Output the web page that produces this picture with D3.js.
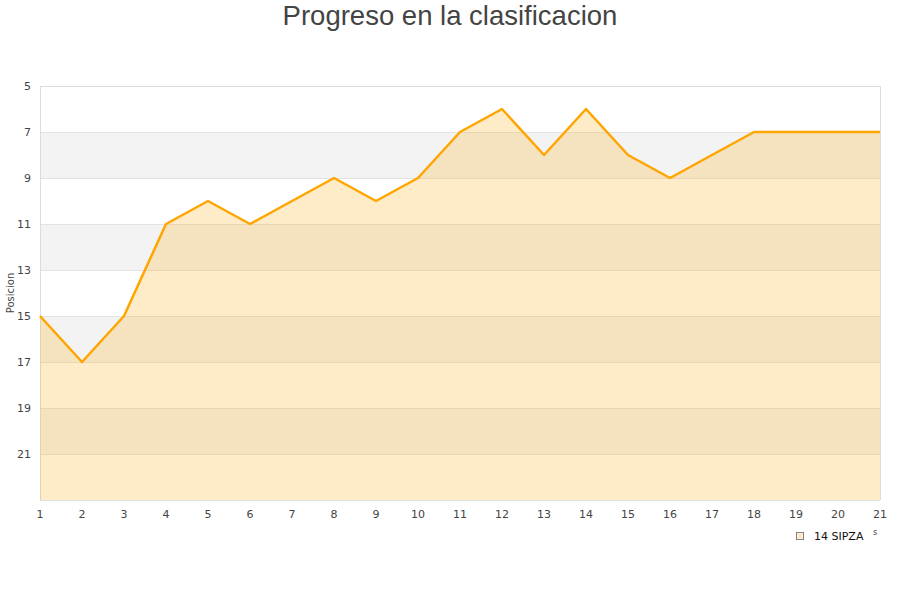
<!DOCTYPE html>
<html><head><meta charset="utf-8">
<script src="https://cdn.jsdelivr.net/npm/d3@7"></script>
<style>body{margin:0;background:#fff}svg{display:block}</style>
</head><body>
<svg id="c" width="900" height="600"></svg>
<script>
const title = "Progreso en la clasificacion";
const yLabel = "Posicion";
const jornadas = [1,2,3,4,5,6,7,8,9,10,11,12,13,14,15,16,17,18,19,20,21];
const posiciones = [15,17,15,11,10,11,10,9,10,9,7,6,8,6,8,9,8,7,7,7,7];
const yTicks = [5,7,9,11,13,15,17,19,21];
const seriesName = "14 SIPZA";

const svg = d3.select("#c");
const m = {l:40, r:880, t:86, b:500};
const x = d3.scaleLinear().domain([1,21]).range([m.l, m.r]);
const y = d3.scaleLinear().domain([5,23]).range([m.t, m.b]);

// bands
const bands = [[7,9],[11,13],[15,17],[19,21]];
svg.selectAll("rect.band").data(bands).enter().append("rect")
  .attr("x", m.l).attr("width", m.r-m.l)
  .attr("y", d=>y(d[0])).attr("height", d=>y(d[1])-y(d[0]))
  .attr("fill", "#f3f3f3");
// grid
svg.selectAll("line.grid").data(yTicks.concat([23])).enter().append("line")
  .attr("x1", m.l).attr("x2", m.r).attr("y1", d=>y(d)+0.5).attr("y2", d=>y(d)+0.5)
  .attr("stroke", "#e2e2e2").attr("stroke-width",1);
// border
svg.append("path").attr("d", `M${m.l+0.5},${m.b}V${m.t+0.5}H${m.r+0.5}V${m.b}`)
  .attr("fill","none").attr("stroke","#dcdcdc");

const data = jornadas.map((j,i)=>({j, p:posiciones[i]}));
svg.append("path").datum(data)
  .attr("d", d3.area().x(d=>x(d.j)).y0(m.b).y1(d=>y(d.p)))
  .attr("fill", "rgb(251,179,35)").attr("fill-opacity", 0.25);
svg.append("path").datum(data)
  .attr("d", d3.line().x(d=>x(d.j)).y(d=>y(d.p)))
  .attr("fill","none").attr("stroke","#ffa500").attr("stroke-width",2.5)
  .attr("stroke-linejoin","round");

// axes labels
const f = "DejaVu Sans, sans-serif";
svg.selectAll("text.yt").data(yTicks).enter().append("text")
  .attr("x", 31).attr("y", d=>y(d)+4).attr("text-anchor","end")
  .attr("font-family", f).attr("font-size", 11).attr("fill","#444").text(d=>d);
svg.selectAll("text.xt").data(jornadas).enter().append("text")
  .attr("x", d=>x(d)).attr("y", 518).attr("text-anchor","middle")
  .attr("font-family", f).attr("font-size", 11).attr("fill","#444").text(d=>d);
svg.append("text").attr("transform","translate(14,293) rotate(-90)")
  .attr("text-anchor","middle").attr("font-family", f).attr("font-size", 10)
  .attr("fill","#444").text(yLabel);

svg.append("text").attr("x",450).attr("y",25).attr("text-anchor","middle")
  .attr("font-family","Liberation Sans, Arial, sans-serif").attr("font-size",27.5)
  .attr("fill","#444").text(title);

// legend
svg.append("rect").attr("x",796.5).attr("y",532.5).attr("width",7).attr("height",7)
  .attr("fill","#fdecc8").attr("stroke","#888");
svg.append("text").attr("x",814).attr("y",540).attr("font-family",f)
  .attr("font-size",11).attr("fill","#111").text(seriesName);
svg.append("text").attr("x",873).attr("y",535).attr("font-family",f)
  .attr("font-size",8).attr("fill","#444").text("s");
</script>
</body></html>
